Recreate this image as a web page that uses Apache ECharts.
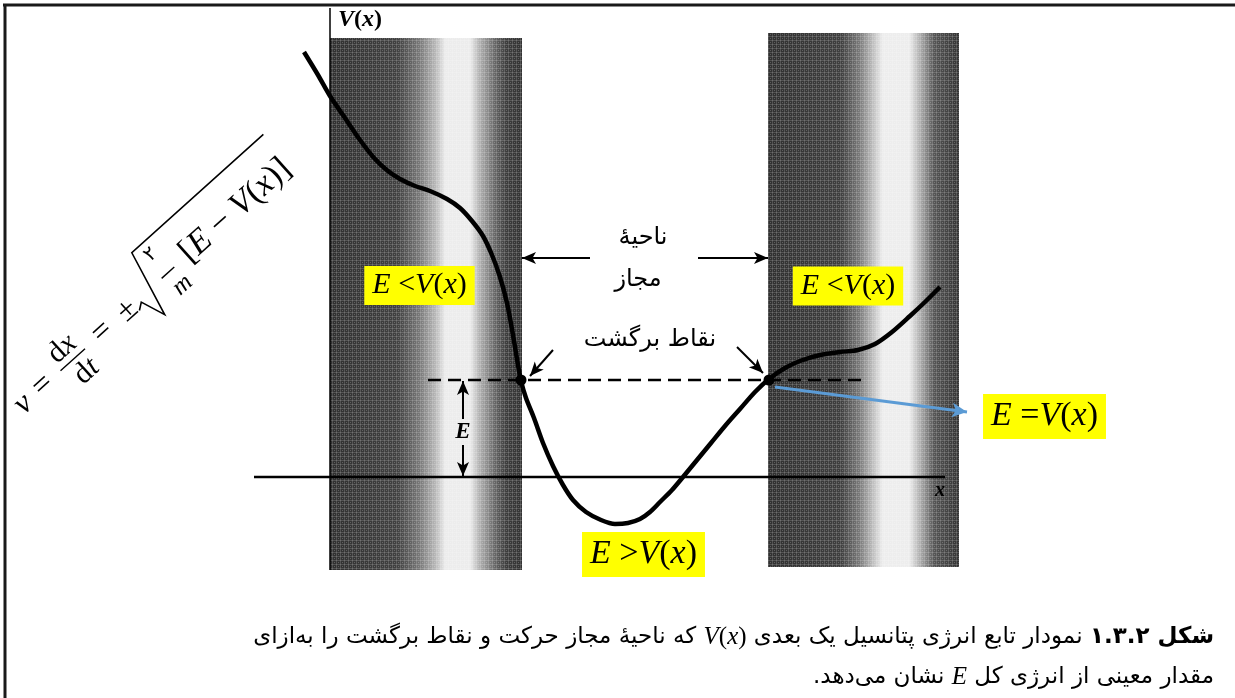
<!DOCTYPE html>
<html>
<head>
<meta charset="utf-8">
<script src="https://cdn.jsdelivr.net/npm/echarts@6/dist/echarts.min.js"></script>
<style>
html, body { margin: 0; padding: 0; background: #fff; }
#chart { width: 1235px; height: 698px; }
</style>
</head>
<body>
<div id="chart"></div>
<script>
// منحنی پتانسیل V(x) — واحدها دلخواه، از روی شکل خوانده شده
var curveX = [-2.6, -1.2, 0, 1.5, 3.0, 4.5, 5.8, 7.0, 8.5, 10.0, 11.7, 13.0, 14.2, 15.3, 16.2, 17.0, 17.7, 18.3, 18.8, 19.1,
    19.6, 20.4, 21.3, 22.3, 23.3, 24.3, 25.6, 27.1, 28.5, 29.8, 31.0, 32.0, 33.0, 34.2, 35.3, 36.7, 38.1, 39.5, 41.0, 42.5,
    43.9, 45.5, 47.0, 49.0, 51.0, 52.8, 54.5, 56.2, 58.0, 59.5, 61.0];
var curveV = [42.5, 40.2, 38.1, 35.9, 33.7, 31.8, 30.6, 29.8, 29.1, 28.6, 27.8, 26.9, 25.6, 24.1, 22.2, 20.0, 17.4, 14.2, 11.2, 9.6,
    7.9, 5.9, 3.4, 1.1, -0.8, -2.3, -3.5, -4.3, -4.7, -4.6, -4.2, -3.5, -2.5, -1.3, 0, 1.7, 3.4, 5.1, 6.8, 8.5,
    9.8, 10.9, 11.6, 12.2, 12.5, 12.7, 13.3, 14.5, 16.1, 17.5, 19.0];

var energyE = 9.7;
var turnX = [19.1, 43.9];

// نواحی ممنوع (نوارهای سایه‌دار)
var bandX0 = [0, 43.8];
var bandX1 = [19.2, 62.9];
var bandTop = [43.9, 44.4];
var bandBottom = [-9.3, -9.0];

var xAxisSpan = [-7.6, 61.5];
var vAxisSpan = [46.9, -9.3];
var dashSpan = [9.8, 53.2];

// پیکان‌ها
var arrowStart = [[26.0, 21.9], [36.8, 21.9], [22.3, 12.7], [40.7, 13.0], [13.3, 5.8], [13.3, 3.2]];
var arrowEnd = [[19.2, 21.9], [43.8, 21.9], [20.0, 10.1], [43.3, 10.4], [13.3, 9.6], [13.3, 0.1]];
var blueStart = [44.5, 9.0];
var blueEnd = [63.7, 6.5];

// برچسب‌ها
var boxPos = [[8.95, 19.15], [51.8, 19.1], [71.45, 6.05], [31.35, -7.75]];
var boxRel = ['<', '<', '=', '>'];
var faLabels = ['ناحیهٔ', 'مجاز', 'نقاط برگشت'];
var faPos = [[31.3, 23.9], [30.8, 19.7], [32.0, 13.7]];
var vLabelPos = [3.0, 45.7];
var xLabelPos = [61.0, -1.4];
var eLabelPos = [13.3, 4.5];
var formulaAnchor = [-31.0, 6.3];
var captionAnchor = [88.4, -16.0];

// زیرنویس (قطعه‌ها به ترتیب دیداری از چپ به راست)
var caption1 = ['که ناحیهٔ مجاز حرکت و نقاط برگشت را به‌ازای', 'V(x)', 'نمودار تابع انرژی پتانسیل یک بعدی', 'شکل ۱.۳.۲'];
var caption2 = ['.', 'نشان می‌دهد', 'E', 'مقدار معینی از انرژی کل'];

var SERIF = '"Liberation Serif", "DejaVu Serif", serif';
var FA = '"DejaVu Sans", sans-serif';

var chart = echarts.init(document.getElementById('chart'));

function pair(a, b) { return [a, b]; }

var curveData = curveX.map(function (x, i) { return [x, curveV[i]]; });

var bandGrad = [
    [[0, '#303030'], [0.35, '#404040'], [0.47, '#7a7a7a'], [0.55, '#b8b8b8'], [0.6, '#ececec'], [0.73, '#ececec'], [0.78, '#b0b0b0'], [0.86, '#666'], [0.92, '#3c3c3c'], [1, '#333']],
    [[0, '#303030'], [0.38, '#3e3e3e'], [0.48, '#7a7a7a'], [0.56, '#c8c8c8'], [0.6, '#ededed'], [0.74, '#ededed'], [0.8, '#aaa'], [0.87, '#555'], [1, '#333']]
];

// بافت ریز شبیه چاپ نیم‌تون
var tile = document.createElement('canvas');
tile.width = 4; tile.height = 4;
var tctx = tile.getContext('2d');
tctx.fillStyle = 'rgba(255,255,255,0.16)';
tctx.fillRect(0, 0, 4, 1);
tctx.fillRect(0, 0, 1, 4);
tctx.fillStyle = 'rgba(255,255,255,0.22)';
tctx.fillRect(2, 2, 1, 1);

var bandAreas = bandX0.map(function (x0, i) {
    return [{
        coord: [x0, bandTop[i]],
        itemStyle: {
            color: {
                type: 'linear', x: 0, y: 0, x2: 1, y2: 0,
                colorStops: bandGrad[i].map(function (s) { return { offset: s[0], color: s[1] }; })
            },
            opacity: 1
        }
    }, { coord: [bandX1[i], bandBottom[i]] }];
});
var bandTexture = bandX0.map(function (x0, i) {
    return [{
        coord: [x0, bandTop[i]],
        itemStyle: { color: { image: tile, repeat: 'repeat' }, opacity: 1 }
    }, { coord: [bandX1[i], bandBottom[i]] }];
});

var arrowLines = arrowStart.map(function (s, i) {
    return [{ coord: s }, { coord: arrowEnd[i] }];
});

function mathRich(size) {
    return {
        i: { fontFamily: SERIF, fontStyle: 'italic', fontSize: size, color: '#000' },
        n: { fontFamily: SERIF, fontSize: size, color: '#000' }
    };
}

var boxSize = [30, 30, 34, 34];
var boxData = boxPos.map(function (p, i) {
    var fs = boxSize[i];
    return {
        value: p,
        label: {
            show: true,
            position: 'inside',
            formatter: '{i|E}{n| ' + boxRel[i] + '}{i|V}{n|(}{i|x}{n|)}',
            rich: mathRich(fs),
            backgroundColor: '#ffff00',
            padding: i < 2 ? [3, 8, 3, 8] : [4, 8, 4, 8],
            lineHeight: fs + 3
        }
    };
});

var faData = faPos.map(function (p, i) {
    return {
        value: p,
        label: {
            show: true, position: 'inside', formatter: faLabels[i],
            fontFamily: FA, fontSize: 24, color: '#000'
        }
    };
});

var textData = [
    {
        value: vLabelPos,
        label: {
            show: true, position: 'inside', formatter: '{bi|V}{b|(}{bi|x}{b|)}',
            rich: {
                bi: { fontFamily: SERIF, fontStyle: 'italic', fontWeight: 'bold', fontSize: 24, color: '#000' },
                b: { fontFamily: SERIF, fontWeight: 'bold', fontSize: 24, color: '#000' }
            }
        }
    },
    {
        value: xLabelPos,
        label: { show: true, position: 'inside', formatter: 'x', fontFamily: SERIF, fontStyle: 'italic', fontWeight: 'bold', fontSize: 20, color: '#000' }
    },
    {
        value: eLabelPos,
        label: { show: true, position: 'inside', formatter: 'E', fontFamily: SERIF, fontStyle: 'italic', fontWeight: 'bold', fontSize: 23, color: '#000' }
    }
];

var option = {
    animation: false,
    backgroundColor: '#fff',
    grid: { left: 0, right: 0, top: 0, bottom: 0 },
    xAxis: { type: 'value', min: -33, max: 90.5, show: false },
    yAxis: { type: 'value', min: -22.1, max: 47.7, show: false },
    series: [{
        name: 'bands',
        type: 'line',
        data: [],
        silent: true,
        markArea: { silent: true, data: bandAreas }
    }, {
        name: 'texture',
        type: 'line',
        data: [],
        silent: true,
        markArea: { silent: true, data: bandTexture }
    }, {
        name: 'xaxis',
        type: 'line',
        data: [pair(xAxisSpan[0], 0), pair(xAxisSpan[1], 0)],
        showSymbol: false,
        lineStyle: { color: '#000', width: 2.5 }
    }, {
        name: 'vaxis',
        type: 'line',
        data: [pair(0, vAxisSpan[0]), pair(0, vAxisSpan[1])],
        showSymbol: false,
        lineStyle: { color: '#000', width: 1.5 }
    }, {
        name: 'E',
        type: 'line',
        data: [pair(dashSpan[0], energyE), pair(dashSpan[1], energyE)],
        showSymbol: false,
        lineStyle: { color: '#000', width: 2.5, type: [13, 7] }
    }, {
        name: 'V',
        type: 'line',
        data: curveData,
        smooth: 0.3,
        showSymbol: false,
        lineStyle: { color: '#000', width: 4.5 }
    }, {
        name: 'turning',
        type: 'scatter',
        data: turnX.map(function (x) { return [x, energyE]; }),
        symbolSize: 11,
        itemStyle: { color: '#000', opacity: 1 }
    }, {
        name: 'arrows',
        type: 'line',
        data: [],
        markLine: {
            silent: true,
            symbol: ['none', 'arrow'],
            symbolSize: [9, 14],
            label: { show: false },
            lineStyle: { color: '#000', width: 2, type: 'solid' },
            data: arrowLines
        }
    }, {
        name: 'blue',
        type: 'line',
        data: [],
        markLine: {
            silent: true,
            symbol: ['none', 'arrow'],
            symbolSize: [11, 15],
            label: { show: false },
            lineStyle: { color: '#5b9bd5', width: 3, type: 'solid' },
            data: [[{ coord: blueStart }, { coord: blueEnd }]]
        }
    }, {
        name: 'labels',
        type: 'scatter',
        symbolSize: 0,
        silent: true,
        itemStyle: { opacity: 1 },
        data: boxData.concat(faData, textData)
    }]
};

chart.setOption(option);

// فرمول چرخیده در سمت چپ
function t(txt, x, y, fs, opts) {
    opts = opts || {};
    return {
        type: 'text',
        style: {
            text: txt, x: x, y: y,
            font: (opts.italic ? 'italic ' : '') + fs + 'px ' + (opts.fa ? FA : SERIF),
            fill: '#000',
            rich: opts.rich,
            align: opts.align || 'center', verticalAlign: 'middle',
            textAlign: opts.align || 'center', textVerticalAlign: 'middle'
        }
    };
}
function ln(x1, y1, x2, y2, w) {
    return { type: 'line', shape: { x1: x1, y1: y1, x2: x2, y2: y2 }, style: { stroke: '#000', lineWidth: w } };
}

var rich30 = mathRich(30);
var rich34 = mathRich(34);
var anchor = chart.convertToPixel({ gridIndex: 0 }, formulaAnchor);
var capAnchor = chart.convertToPixel({ gridIndex: 0 }, captionAnchor);

var formula = {
    type: 'group',
    x: anchor[0], y: anchor[1],
    rotation: 42 * Math.PI / 180,
    children: [
        t('v', 2, -5, 32, { italic: true, align: 'left' }),
        t('=', 36, -6, 32),
        t('{n|d}{i|x}', 75, -20, 30, { rich: rich30 }),
        ln(59, -5, 92, -5, 1.4),
        t('{n|d}{i|t}', 78, 13, 30, { rich: rich30 }),
        t('=', 116, -6, 32),
        t('±', 149, -5, 32),
        { type: 'polyline', shape: { points: [[158, 3], [165, -2], [174, 23], [191, -45], [368, -45]] },
          style: { stroke: '#000', fill: null, lineWidth: 1.6, lineJoin: 'miter' } },
        t('۲', 204, -31, 20, { fa: true }),
        ln(196, -6, 213, -6, 1.4),
        t('m', 207, 13, 25, { italic: true }),
        t('{n|[}{i|E}{n| − }{i|V}{n|(}{i|x}{n|)]}', 227, -7, 34, { rich: rich34, align: 'left' })
    ]
};

var capRich = {
    p: { fontFamily: FA, fontSize: 23, color: '#000' },
    b: { fontFamily: FA, fontSize: 23, fontWeight: 'bold', color: '#000' },
    i: { fontFamily: SERIF, fontStyle: 'italic', fontSize: 25, color: '#000' },
    n: { fontFamily: SERIF, fontSize: 25, color: '#000' }
};

var cap1 = '{p|' + caption1[0] + '}{p| }{i|V}{n|(}{i|x}{n|)}{p| }{p|' + caption1[2] + '}{p| }{b|' + caption1[3] + '}';
var cap2 = '{p|' + caption2[0] + '}{p|' + caption2[1] + '}{p| }{i|' + caption2[2] + '}{p| }{p|' + caption2[3] + '}';

chart.setOption({
    graphic: [
        formula,
        { type: 'line', shape: { x1: 3, y1: 5, x2: 1235, y2: 5 }, style: { stroke: '#1a1a1a', lineWidth: 3 } },
        { type: 'line', shape: { x1: 5, y1: 4, x2: 5, y2: 698 }, style: { stroke: '#1a1a1a', lineWidth: 3 } },
        { type: 'text', style: { text: cap1, rich: capRich, x: capAnchor[0], y: capAnchor[1], align: 'right', verticalAlign: 'middle', textAlign: 'right', textVerticalAlign: 'middle' } },
        { type: 'text', style: { text: cap2, rich: capRich, x: capAnchor[0], y: capAnchor[1] + 40, align: 'right', verticalAlign: 'middle', textAlign: 'right', textVerticalAlign: 'middle' } }
    ]
});
</script>
</body>
</html>
